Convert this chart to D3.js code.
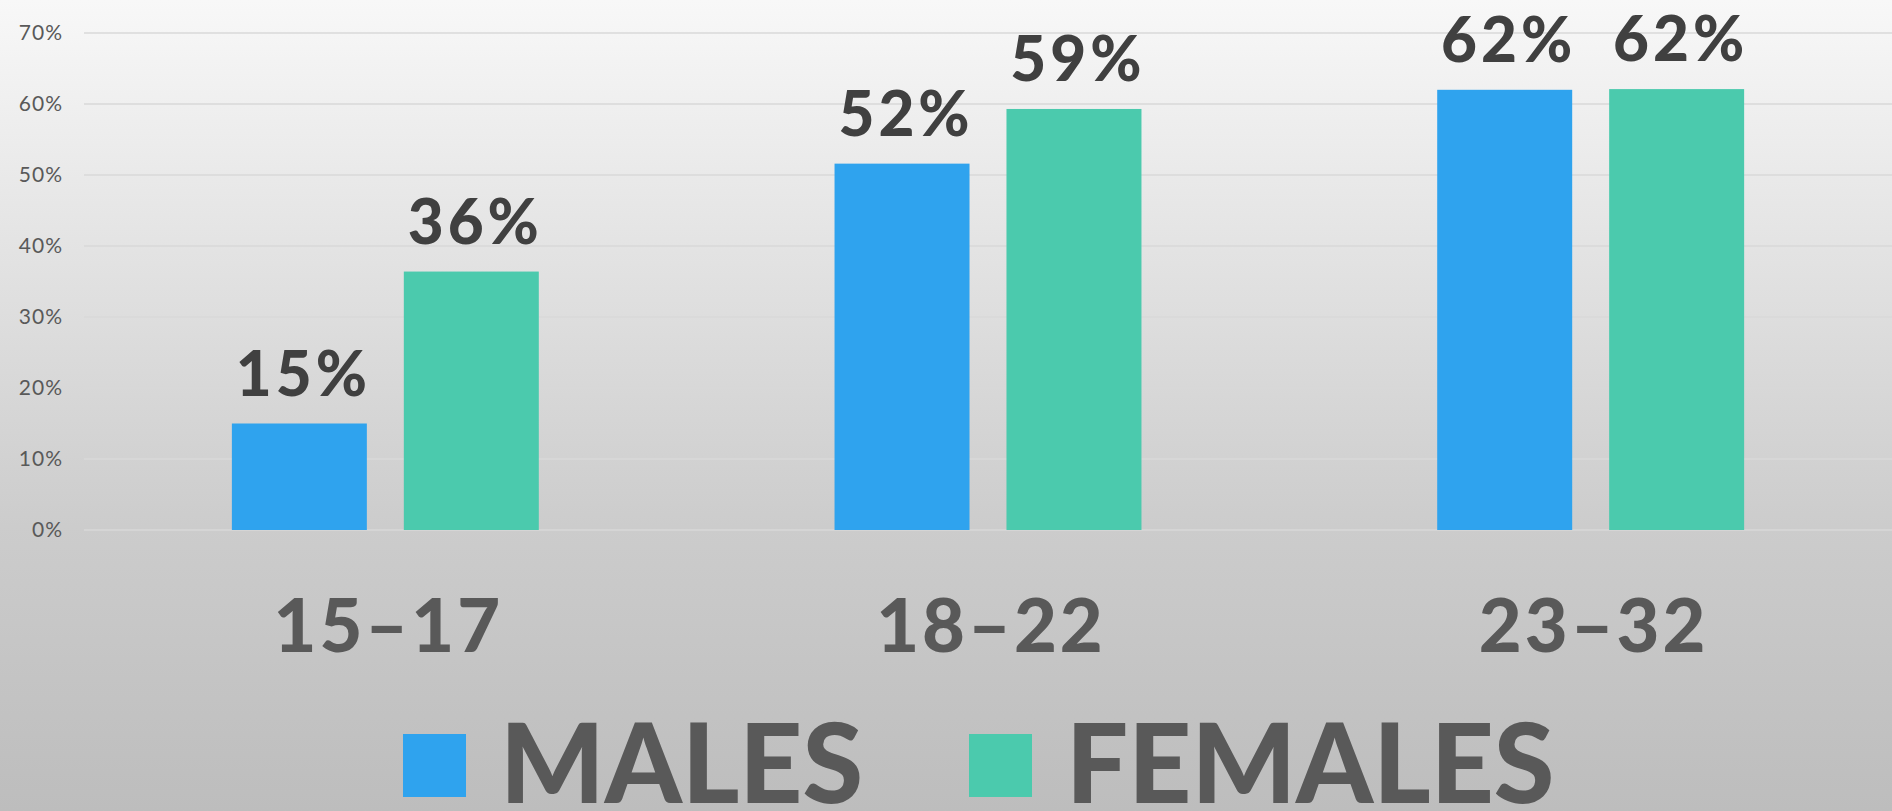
<!DOCTYPE html>
<html>
<head>
<meta charset="utf-8">
<script src="https://cdn.jsdelivr.net/npm/d3@7"></script>
<style>
  html, body { margin: 0; padding: 0; overflow: hidden; }
  svg { display: block; }
  text { font-family: "Lato", "Noto Sans", sans-serif; }
</style>
</head>
<body>
<div id="chart"></div>
<script>
//data
const ageGroups = ["15–17", "18–22", "23–32"];
const seriesNames = ["MALES", "FEMALES"];
const males = [0.15, 0.516, 0.62];
const females = [0.364, 0.593, 0.621];
const yTicks = [0, 0.1, 0.2, 0.3, 0.4, 0.5, 0.6, 0.7];

const colors = ["#2fa3ee", "#4bcaad"];

const width = 1892;
const height = 811;

//plot area
const plotLeft = 84;
const plotRight = 1892;
const plotTop = 33;
const plotBottom = 530;

var rows = ageGroups.map((g, i) => ({ group: g, values: [males[i], females[i]] }));

var svg = d3.select("#chart").append("svg")
  .attr("width", width)
  .attr("height", height);

//background gradient
var grad = svg.append("defs").append("linearGradient")
  .attr("id", "bg")
  .attr("x1", 0).attr("y1", 0).attr("x2", 0).attr("y2", 1);
grad.append("stop").attr("offset", "0%").attr("stop-color", "#f8f8f8");
grad.append("stop").attr("offset", "65%").attr("stop-color", "#cccccc");
grad.append("stop").attr("offset", "100%").attr("stop-color", "#bdbdbd");

svg.append("rect")
  .attr("width", width)
  .attr("height", height)
  .attr("fill", "url(#bg)");

//scales
const x0 = d3.scaleBand()
  .domain(ageGroups)
  .range([plotLeft, plotRight]);

const x1 = d3.scaleBand()
  .domain(seriesNames)
  .range([0, x0.bandwidth()])
  .paddingInner(0.215)
  .paddingOuter(0.86);

const y = d3.scaleLinear()
  .domain([0, 0.7])
  .range([plotBottom, plotTop]);

//gridlines
svg.append("g")
  .selectAll("line")
  .data(yTicks)
  .join("line")
    .attr("x1", plotLeft)
    .attr("x2", plotRight)
    .attr("y1", d => y(d))
    .attr("y2", d => y(d))
    .attr("stroke", "#d9d9d9")
    .attr("stroke-width", 1.5);

//y axis labels
const yAxis = d3.axisLeft(y)
  .tickValues(yTicks)
  .tickFormat(d3.format(".0%"))
  .tickSize(0)
  .tickPadding(0);

svg.append("g")
  .attr("transform", `translate(63,0)`)
  .call(yAxis)
  .call(g => g.select(".domain").remove())
  .call(g => g.selectAll("text")
    .attr("fill", "#595959")
    .style("font-size", "21px")
    .style("letter-spacing", "1px")
    .style("font-family", "Lato, sans-serif"));

//bars
var groups = svg.append("g")
  .selectAll("g")
  .data(rows)
  .join("g")
    .attr("transform", d => `translate(${x0(d.group)},0)`);

groups.selectAll("rect")
  .data(d => d.values.map((v, i) => ({ key: seriesNames[i], value: v, i: i })))
  .join("rect")
    .attr("x", d => x1(d.key))
    .attr("y", d => y(d.value))
    .attr("width", x1.bandwidth())
    .attr("height", d => y(0) - y(d.value))
    .attr("fill", d => colors[d.i]);

//value labels
groups.selectAll("text.value")
  .data(d => d.values.map((v, i) => ({ key: seriesNames[i], value: v })))
  .join("text")
    .attr("class", "value")
    .attr("x", d => x1(d.key) + x1.bandwidth() / 2 + 4)
    .attr("y", d => y(d.value) - 28)
    .attr("text-anchor", "middle")
    .attr("fill", "#404040")
    .style("font-size", "62px")
    .style("font-weight", "900")
    .style("letter-spacing", "4px")
    .text(d => d3.format(".0%")(d.value));

//category labels
svg.append("g")
  .selectAll("text")
  .data(ageGroups)
  .join("text")
    .attr("x", d => x0(d) + x0.bandwidth() / 2 + 3)
    .attr("y", 652)
    .attr("text-anchor", "middle")
    .attr("fill", "#595959")
    .style("font-size", "74px")
    .style("font-weight", "900")
    .style("letter-spacing", "3px")
    .text(d => d);

//legend
const legendX = [403, 969];
var legend = svg.append("g")
  .selectAll("g")
  .data(seriesNames)
  .join("g")
    .attr("transform", (d, i) => `translate(${legendX[i]},0)`);

legend.append("rect")
  .attr("y", 734)
  .attr("width", 63)
  .attr("height", 63)
  .attr("fill", (d, i) => colors[i]);

legend.append("text")
  .attr("x", 97)
  .attr("y", 803)
  .attr("fill", "#595959")
  .style("font-size", "110px")
  .style("font-weight", "900")
  .text(d => d);
</script>
</body>
</html>
